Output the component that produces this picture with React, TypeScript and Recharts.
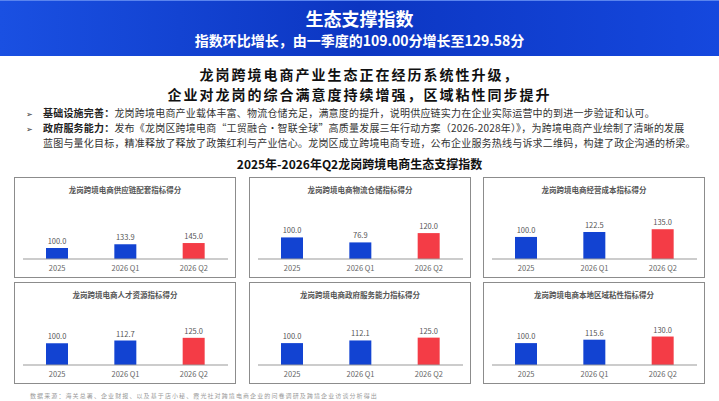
import React from 'react';
import { BarChart, Bar, XAxis, YAxis, Cell, LabelList } from 'recharts';

const categories = ['2025', '2026 Q1', '2026 Q2'];

const supplyChain = [100.0, 133.9, 145.0];
const logistics = [100.0, 76.9, 120.0];
const operatingCost = [100.0, 122.5, 135.0];
const talent = [100.0, 112.7, 125.0];
const govService = [100.0, 112.1, 125.0];
const stickiness = [100.0, 115.6, 130.0];

const panelTitles = [
  '龙岗跨境电商供应链配套指标得分',
  '龙岗跨境电商物流仓储指标得分',
  '龙岗跨境电商经营成本指标得分',
  '龙岗跨境电商人才资源指标得分',
  '龙岗跨境电商政府服务能力指标得分',
  '龙岗跨境电商本地区域粘性指标得分',
];

const FONT = '"Noto Sans CJK SC", "Noto Sans", sans-serif';
const BLUE = '#1243d2';
const RED = '#f43c46';

interface PanelProps {
  title: string;
  values: number[];
  yMax: number;
  left: number;
  top: number;
  height: number;
}

const Panel: React.FC<PanelProps> = ({ title, values, yMax, left, top, height }) => {
  const data = categories.map((name, i) => ({ name, value: values[i] }));
  const innerH = height - 2;
  return (
    <div
      style={{
        position: 'absolute',
        left,
        top,
        width: 222,
        height,
        boxSizing: 'border-box',
        border: '1px solid #8c8c8c',
        background: '#fff',
      }}
    >
      <div
        style={{
          position: 'absolute',
          top: 7,
          left: 0,
          width: 220,
          textAlign: 'center',
          fontSize: 7.5,
          lineHeight: '10px',
          fontWeight: 600,
          color: '#555',
          whiteSpace: 'nowrap',
        }}
      >
        {title}
      </div>
      <BarChart
        width={220}
        height={innerH}
        data={data}
        margin={{ top: innerH - 78, right: 7, left: 8, bottom: 0 }}
      >
        <YAxis hide domain={[0, yMax]} />
        <XAxis
          dataKey="name"
          height={18}
          axisLine={{ stroke: '#9a9a9a', strokeWidth: 1.2 }}
          tickLine={false}
          tickSize={5}
          tickMargin={2}
          tick={{ fill: '#666', fontSize: 7.5, fontFamily: FONT }}
        />
        <Bar dataKey="value" barSize={22} isAnimationActive={false}>
          {data.map((entry, index) => (
            <Cell key={`cell-${index}`} fill={index === 2 ? RED : BLUE} />
          ))}
          <LabelList
            dataKey="value"
            position="top"
            offset={4}
            formatter={(v: any) => Number(v).toFixed(1)}
            style={{ fill: '#555', fontSize: 7.5, fontFamily: FONT }}
          />
        </Bar>
      </BarChart>
    </div>
  );
};

const lineStyle = (top: number, size: number, lh: number): React.CSSProperties => ({
  position: 'absolute',
  top,
  left: 0,
  width: 719,
  textAlign: 'center',
  fontSize: size,
  lineHeight: `${lh}px`,
  whiteSpace: 'nowrap',
});

const App: React.FC = () => {
  return (
    <div
      style={{
        position: 'absolute',
        left: 0,
        top: 0,
        width: 719,
        height: 401,
        background: '#fff',
        fontFamily: FONT,
        overflow: 'hidden',
      }}
    >
      {/* header band */}
      <div
        style={{
          position: 'absolute',
          left: 0,
          top: 0,
          width: 719,
          height: 56,
          background: 'linear-gradient(90deg, #1a50e2 0%, #0c36c2 50%, #1548de 100%)',
          borderTop: '1px solid #5a84ee',
          boxSizing: 'border-box',
        }}
      >
        <div style={{ ...lineStyle(6, 18, 22), color: '#fff', fontWeight: 700 }}>生态支撑指数</div>
        <div style={{ ...lineStyle(31, 14, 17), color: '#fff', fontWeight: 700 }}>
          指数环比增长，由一季度的109.00分增长至129.58分
        </div>
      </div>

      {/* headline */}
      <div style={{ ...lineStyle(64.8, 14, 18), color: '#111', fontWeight: 700, letterSpacing: 2 }}>
        龙岗跨境电商产业生态正在经历系统性升级，
      </div>
      <div style={{ ...lineStyle(85.3, 14, 18), color: '#111', fontWeight: 700, letterSpacing: 2 }}>
        企业对龙岗的综合满意度持续增强，区域粘性同步提升
      </div>

      {/* bullets */}
      <div
        style={{
          position: 'absolute',
          top: 105.5,
          left: 26,
          fontSize: 10,
          lineHeight: '14px',
          letterSpacing: 0.2,
          color: '#333',
          whiteSpace: 'nowrap',
        }}
      >
        <div>
          <span style={{ display: 'inline-block', width: 17, fontSize: 8 }}>➢</span>
          <b style={{ color: '#222' }}>基础设施完善：</b>
          龙岗跨境电商产业载体丰富、物流仓储充足，满意度的提升，说明供应链实力在企业实际运营中的到进一步验证和认可。
        </div>
        <div>
          <span style={{ display: 'inline-block', width: 17, fontSize: 8 }}>➢</span>
          <b style={{ color: '#222' }}>政府服务能力：</b>
          发布《龙岗区跨境电商“工贸融合•智联全球”高质量发展三年行动方案（2026-2028年）》，为跨境电商产业绘制了清晰的发展
        </div>
        <div style={{ paddingLeft: 17 }}>
          蓝图与量化目标，精准释放了释放了政策红利与产业信心。龙岗区成立跨境电商专班，公布企业服务热线与诉求二维码，构建了政企沟通的桥梁。
        </div>
      </div>

      {/* chart title */}
      <div style={{ ...lineStyle(156, 12, 16), color: '#111', fontWeight: 700 }}>
        2025年-2026年Q2龙岗跨境电商生态支撑指数
      </div>

      <Panel title={panelTitles[0]} values={supplyChain} yMax={545} left={14} top={177} height={101} />
      <Panel title={panelTitles[1]} values={logistics} yMax={278} left={249} top={177} height={101} />
      <Panel title={panelTitles[2]} values={operatingCost} yMax={272} left={483} top={177} height={101} />
      <Panel title={panelTitles[3]} values={talent} yMax={276} left={14} top={282} height={102} />
      <Panel title={panelTitles[4]} values={govService} yMax={274} left={249} top={282} height={102} />
      <Panel title={panelTitles[5]} values={stickiness} yMax={274} left={483} top={282} height={102} />

      {/* footer */}
      <div
        style={{
          position: 'absolute',
          top: 391,
          left: 30,
          fontSize: 6,
          lineHeight: '10px',
          letterSpacing: 1.1,
          color: '#9a9a9a',
          whiteSpace: 'nowrap',
        }}
      >
        数据来源：海关总署、企业财报、以及基于店小秘、霞光社对跨境电商企业的问卷调研及跨境企业访谈分析得出
      </div>
    </div>
  );
};

export default App;
